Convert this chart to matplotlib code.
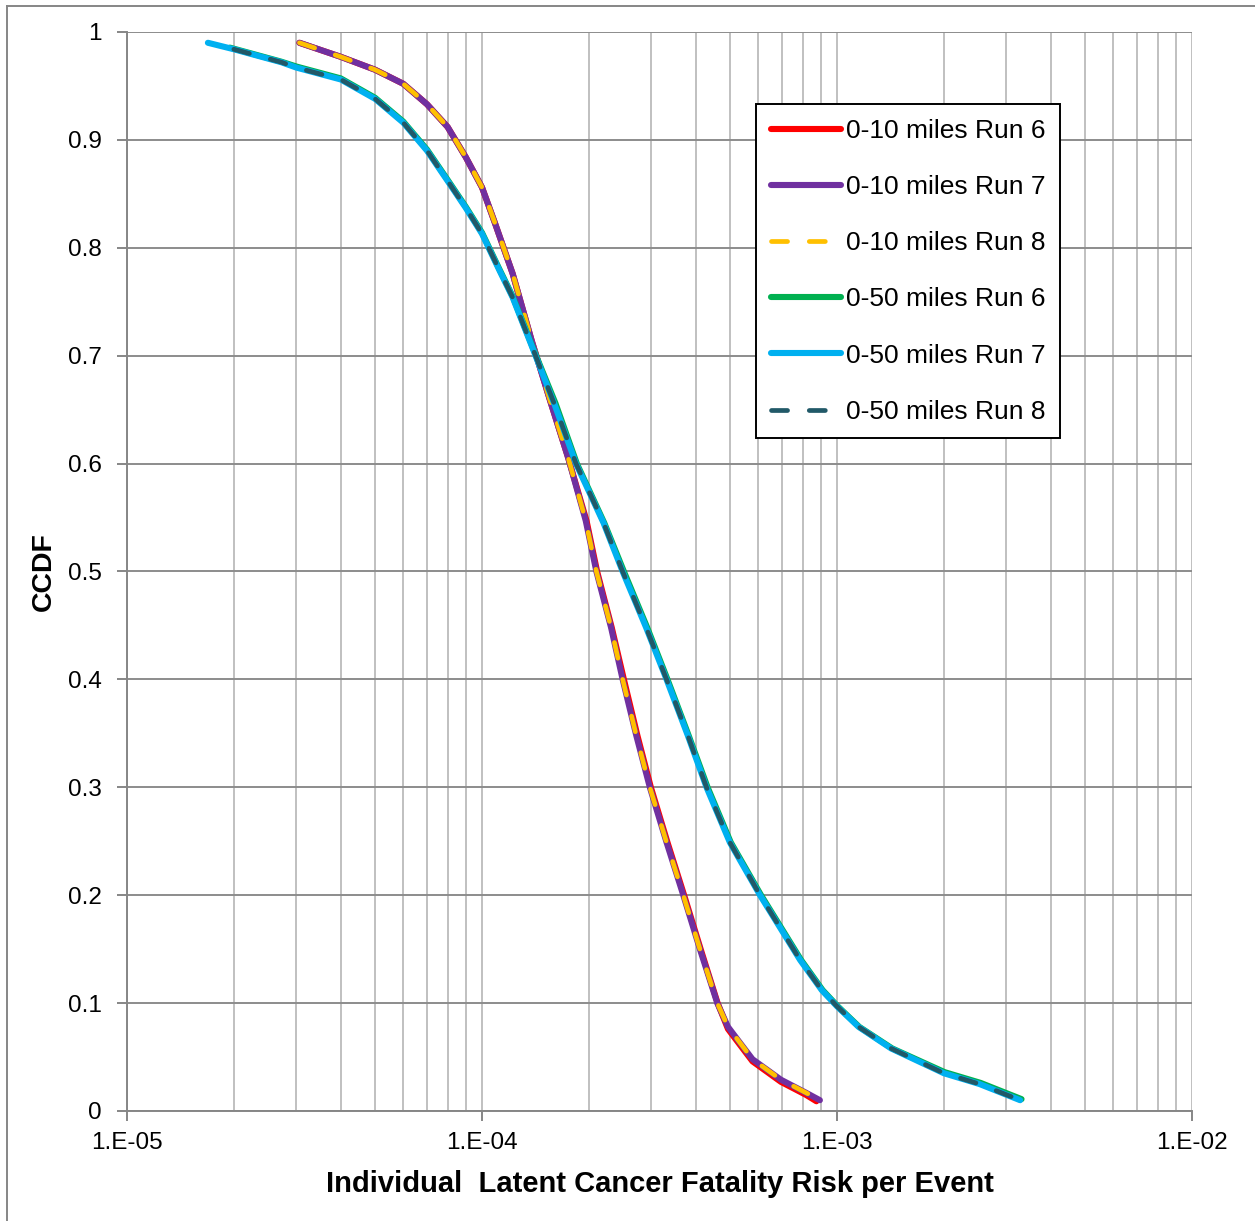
import numpy as np
import matplotlib.pyplot as plt
from matplotlib.ticker import LogLocator, NullFormatter, FixedLocator
from matplotlib.lines import Line2D

plt.rcParams['font.family'] = ['Liberation Sans', 'DejaVu Sans']

# 0-10 miles curves
x_10_run6 = [3.06e-5, 4e-5, 5e-5, 6e-5, 7e-5, 8e-5, 9e-5, 1e-4, 1.09e-4, 1.22e-4, 1.38e-4,
             1.55e-4, 1.75e-4, 1.97e-4, 2.11e-4, 2.32e-4, 2.51e-4, 2.74e-4, 2.99e-4, 3.33e-4,
             3.71e-4, 4.13e-4, 4.61e-4, 4.93e-4, 5.28e-4, 5.78e-4, 6.95e-4, 8.17e-4, 8.75e-4]
y_10_run6 = [0.99, 0.977, 0.965, 0.952, 0.933, 0.912, 0.884, 0.856, 0.822, 0.776, 0.714,
             0.66, 0.605, 0.547, 0.5, 0.448, 0.4, 0.348, 0.3, 0.249,
             0.2, 0.15, 0.1, 0.076, 0.063, 0.046, 0.027, 0.015, 0.009]

x_10_run7 = [3.06e-5, 4e-5, 5e-5, 6e-5, 7e-5, 8e-5, 9e-5, 1e-4, 1.09e-4, 1.22e-4, 1.38e-4,
             1.55e-4, 1.75e-4, 1.96e-4, 2.1e-4, 2.31e-4, 2.49e-4, 2.72e-4, 2.97e-4, 3.31e-4,
             3.69e-4, 4.11e-4, 4.6e-4, 4.93e-4, 5.28e-4, 5.78e-4, 6.95e-4, 8.17e-4, 8.95e-4]
y_10_run7 = [0.99, 0.977, 0.965, 0.952, 0.933, 0.912, 0.884, 0.856, 0.822, 0.776, 0.714,
             0.66, 0.605, 0.547, 0.5, 0.448, 0.4, 0.348, 0.3, 0.249,
             0.2, 0.15, 0.1, 0.078, 0.065, 0.048, 0.029, 0.017, 0.01]

x_10_run8 = x_10_run7
y_10_run8 = y_10_run7

# 0-50 miles curves
x_50_run6 = [1.95e-5, 2.72e-5, 3e-5, 4e-5, 5e-5, 6e-5, 7e-5, 8e-5, 9e-5, 1e-4, 1.12e-4,
             1.22e-4, 1.4e-4, 1.61e-4, 1.85e-4, 2.21e-4, 2.51e-4, 2.92e-4, 3.33e-4, 3.82e-4,
             4.32e-4, 5.02e-4, 6.11e-4, 7.92e-4, 9.11e-4, 1.005e-3, 1.155e-3, 1.43e-3, 2.01e-3,
             2.54e-3, 3.31e-3]
y_50_run6 = [0.9855, 0.9725, 0.968, 0.957, 0.939, 0.917, 0.891, 0.863, 0.838, 0.814, 0.78,
             0.755, 0.705, 0.656, 0.6, 0.545, 0.5, 0.448, 0.4, 0.348,
             0.3, 0.249, 0.2, 0.14, 0.112, 0.097, 0.078, 0.058, 0.036,
             0.026, 0.011]

x_50_run7 = [1.69e-5, 2e-5, 2.72e-5, 3e-5, 4e-5, 5e-5, 6e-5, 7e-5, 8e-5, 9e-5, 1e-4, 1.12e-4,
             1.22e-4, 1.4e-4, 1.6e-4, 1.84e-4, 2.2e-4, 2.49e-4, 2.9e-4, 3.31e-4, 3.8e-4,
             4.29e-4, 4.99e-4, 6.07e-4, 7.87e-4, 9.06e-4, 1.0e-3, 1.15e-3, 1.42e-3, 2.0e-3,
             2.52e-3, 3.28e-3]
y_50_run7 = [0.99, 0.984, 0.972, 0.967, 0.956, 0.938, 0.916, 0.89, 0.862, 0.837, 0.813, 0.779,
             0.754, 0.704, 0.655, 0.6, 0.545, 0.5, 0.448, 0.4, 0.348,
             0.3, 0.249, 0.2, 0.14, 0.112, 0.097, 0.078, 0.058, 0.035,
             0.025, 0.01]

x_50_run8 = x_50_run7[1:]
y_50_run8 = y_50_run7[1:]

fig = plt.figure(figsize=(12.55, 12.21), dpi=100)
ax = fig.add_axes([0.1012, 0.0901, 0.8486, 0.8837])

lw = 4.4
dlw = 3.4
dash = (3.4, 4.6)
ax.plot(x_10_run6, y_10_run6, color='#ff0000', lw=lw, solid_capstyle='round', label='0-10 miles Run 6')
ax.plot(x_10_run7, y_10_run7, color='#7030a0', lw=lw, solid_capstyle='round', label='0-10 miles Run 7')
ax.plot(x_10_run8, y_10_run8, color='#ffc000', lw=dlw, dashes=dash, dash_capstyle='round',
        label='0-10 miles Run 8')
ax.plot(x_50_run6, y_50_run6, color='#00b050', lw=lw, solid_capstyle='round', label='0-50 miles Run 6')
ax.plot(x_50_run7, y_50_run7, color='#00b0f0', lw=lw, solid_capstyle='round', label='0-50 miles Run 7')
ax.plot(x_50_run8, y_50_run8, color='#215968', lw=dlw, dashes=dash, dash_capstyle='round',
        label='0-50 miles Run 8')

ax.set_xscale('log')
ax.set_xlim(1e-5, 1e-2)
ax.set_ylim(0, 1)

ax.xaxis.set_major_locator(FixedLocator([1e-5, 1e-4, 1e-3, 1e-2]))
ax.xaxis.set_minor_locator(LogLocator(base=10, subs=np.arange(2, 10)))
ax.xaxis.set_minor_formatter(NullFormatter())
ax.set_xticklabels(['1.E-05', '1.E-04', '1.E-03', '1.E-02'])
ax.set_yticks(np.arange(0, 1.01, 0.1))
ax.set_yticklabels(['0', '0.1', '0.2', '0.3', '0.4', '0.5', '0.6', '0.7', '0.8', '0.9', '1'])

ax.grid(True, axis='x', which='both', color='#c0c0c0', lw=1.4)
ax.grid(True, axis='y', which='major', color='#8c8c8c', lw=1.4)
ax.set_axisbelow(True)

for side in ['top', 'right']:
    ax.spines[side].set_visible(False)
for side in ['left', 'bottom']:
    ax.spines[side].set_color('#868686')
    ax.spines[side].set_linewidth(1.4)

ax.tick_params(axis='both', which='major', length=7, width=1.4, color='#868686',
               labelsize=17.5, labelcolor='black')
ax.tick_params(axis='x', which='minor', length=0)
ax.tick_params(axis='x', which='major', pad=8)
ax.tick_params(axis='y', which='major', pad=11)

ax.set_xlabel('Individual  Latent Cancer Fatality Risk per Event', fontsize=21,
              fontweight='bold', labelpad=12)
ax.set_ylabel('CCDF', fontsize=20.5, fontweight='bold', labelpad=8)

leg = ax.legend(loc='upper right', bbox_to_anchor=(0.876, 0.933), fontsize=19,
                frameon=True, fancybox=False, framealpha=1, edgecolor='black',
                handlelength=2.65, handletextpad=0.2, labelspacing=1.22,
                borderpad=0.55, borderaxespad=0)
leg.get_frame().set_linewidth(1.4)

# outer chart border
fig.add_artist(Line2D([7 / 1255, 7 / 1255], [0, 1 - 5.5 / 1221], transform=fig.transFigure,
                      color='#868686', lw=1.4))
fig.add_artist(Line2D([7 / 1255, 1], [1 - 5.5 / 1221, 1 - 5.5 / 1221], transform=fig.transFigure,
                      color='#868686', lw=1.4))

fig.savefig('out.png', dpi=100)
